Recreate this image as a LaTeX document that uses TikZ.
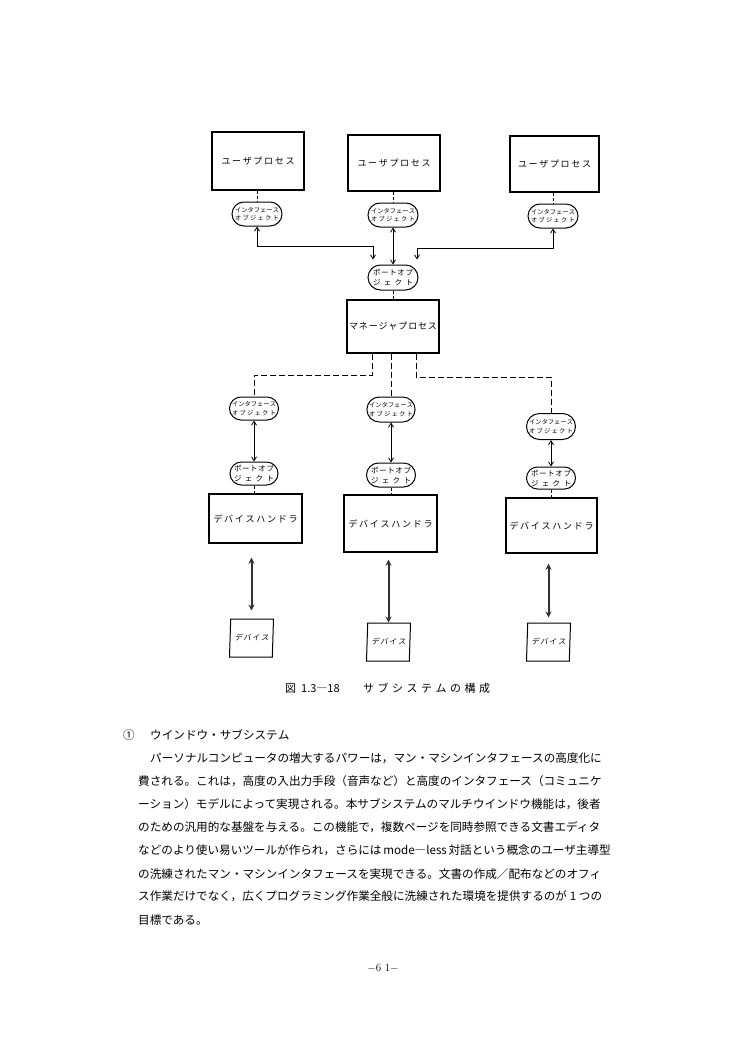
\documentclass[tikz,border=0pt]{standalone}
\usepackage{fontspec}
\newfontfamily\jp{Noto Sans CJK JP}
\newfontfamily\jpsl[FakeSlant=0.18]{Noto Sans CJK JP}
\usetikzlibrary{shapes.misc,shapes.geometric,arrows.meta}
\newcommand\fsz[2]{\fontsize{#1}{#2}\selectfont}
\newcommand\spr[2]{\makebox[#1][s]{\spaceskip=0pt plus 1fill\relax #2}}
\begin{document}
\begin{tikzpicture}[x=1pt,y=-1pt,
  proc/.style={draw, line width=1.4pt, inner sep=0pt, font=\jp\fsz{9}{11}},
  obj/.style={draw, rounded rectangle, line width=1pt, inner sep=0pt, minimum width=50pt, minimum height=24pt, align=center, font=\jp\fsz{6.2}{8.5}},
  portobj/.style={obj, font=\jp\fsz{7.5}{10}},
  dev/.style={draw, trapezium, trapezium left angle=80, trapezium right angle=100, trapezium stretches body, line width=1pt, minimum width=44pt, minimum height=38pt, inner sep=0pt, font=\jpsl\fsz{7.5}{10}},
  link/.style={line width=0.8pt, {Straight Barb[length=4pt,width=5pt]}-{Straight Barb[length=4pt,width=5pt]}},
  devlink/.style={line width=2pt, black!80, {Stealth[length=6pt,width=6pt]}-{Stealth[length=6pt,width=6pt]}},
  tie/.style={line width=0.8pt, dash pattern=on 3pt off 2pt},
  mgrlink/.style={line width=0.9pt, dash pattern=on 6pt off 3pt},
  para/.style={anchor=west, inner sep=0pt, font=\jp\fsz{11.6}{14}},
]
\useasboundingbox (0,0) rectangle (750,1054);
\fill[white] (0,0) rectangle (750,1054);

% top processes
\node[proc, minimum width=92pt, minimum height=58pt] (b1) at (258,161) {\spr{73pt}{ユ ー ザ プ ロ セ ス}};
\node[proc, minimum width=92pt, minimum height=56pt] (b2) at (394,163) {\spr{73pt}{ユ ー ザ プ ロ セ ス}};
\node[proc, minimum width=89pt, minimum height=56pt] (b3) at (554.5,164) {\spr{73pt}{ユ ー ザ プ ロ セ ス}};

\node[obj] (i1) at (257,214) {\spr{44pt}{イ ン タ フ ェ ー ス}\\\spr{44pt}{オ ブ ジ ェ ク ト}};
\node[obj] (i2) at (393,215) {\spr{44pt}{イ ン タ フ ェ ー ス}\\\spr{44pt}{オ ブ ジ ェ ク ト}};
\node[obj] (i3) at (553,216) {\spr{44pt}{イ ン タ フ ェ ー ス}\\\spr{44pt}{オ ブ ジ ェ ク ト}};

\node[portobj, minimum height=25pt] (p0) at (393,277.5) {\spr{40pt}{ポ ー ト オ ブ}\\\spr{40pt}{ジ ェ ク ト}};
\node[proc, minimum width=92pt, minimum height=53pt] (m) at (393,326.5) {\spr{88pt}{マ ネ ー ジ ャ プ ロ セ ス}};

% lower chains
\node[obj, minimum width=49pt, minimum height=23pt] (i4) at (254,408.5) {\spr{44pt}{イ ン タ フ ェ ー ス}\\\spr{44pt}{オ ブ ジ ェ ク ト}};
\node[obj, minimum width=48pt, minimum height=25pt] (i5) at (391,409.5) {\spr{44pt}{イ ン タ フ ェ ー ス}\\\spr{44pt}{オ ブ ジ ェ ク ト}};
\node[obj, minimum width=49pt, minimum height=26pt] (i6) at (551,426.5) {\spr{44pt}{イ ン タ フ ェ ー ス}\\\spr{44pt}{オ ブ ジ ェ ク ト}};

\node[portobj, minimum width=48pt, minimum height=23pt] (p4) at (254,473.5) {\spr{40pt}{ポ ー ト オ ブ}\\\spr{40pt}{ジ ェ ク ト}};
\node[portobj, minimum width=49pt, minimum height=24pt] (p5) at (391,475) {\spr{40pt}{ポ ー ト オ ブ}\\\spr{40pt}{ジ ェ ク ト}};
\node[portobj, minimum width=49pt, minimum height=22pt] (p6) at (551,478) {\spr{40pt}{ポ ー ト オ ブ}\\\spr{40pt}{ジ ェ ク ト}};

\node[proc, minimum width=93pt, minimum height=49pt] (h1) at (255.5,518.5) {\spr{84pt}{デ バ イ ス ハ ン ド ラ}};
\node[proc, minimum width=93pt, minimum height=57pt] (h2) at (390.5,523.5) {\spr{84pt}{デ バ イ ス ハ ン ド ラ}};
\node[proc, minimum width=91pt, minimum height=55pt] (h3) at (551.5,525.5) {\spr{84pt}{デ バ イ ス ハ ン ド ラ}};

\node[dev] (d1) at (251.5,638) {\spr{34pt}{デ バ イ ス}};
\node[dev] (d2) at (388.5,642) {\spr{34pt}{デ バ イ ス}};
\node[dev] (d3) at (548.5,642) {\spr{34pt}{デ バ イ ス}};

% connectors top
\draw[tie] (i1.north |- b1.south) -- (i1.north);
\draw[tie] (i2.north |- b2.south) -- (i2.north);
\draw[tie] (i3.north |- b3.south) -- (i3.north);
\coordinate (j1) at (257,246);
\coordinate (j3) at (553,248);
\draw[link, shorten >=5pt] (i1.south) -- (i1.south |- j1) -| ([xshift=-20pt]p0.north);
\draw[link] (i2.south) -- (p0.north);
\draw[link, shorten >=5pt] (i3.south) -- (i3.south |- j3) -| ([xshift=24pt]p0.north);
\draw[tie] (p0.south) -- (m.north);

% manager to lower interface objects
\coordinate (k1) at (372,375);
\coordinate (k3) at (416,377);
\draw[mgrlink] (k1 |- m.south) -- (k1) -| (i4.north);
\draw[mgrlink] (i5.north |- m.south) -- (i5.north);
\draw[mgrlink] (k3 |- m.south) -- (k3) -| (i6.north);

\draw[link] (i4.south) -- (p4.north);
\draw[link] (i5.south) -- (p5.north);
\draw[link] (i6.south) -- (p6.north);

\draw[tie] (p4.south) -- (p4.south |- h1.north);
\draw[tie] (p5.south) -- (p5.south |- h2.north);
\draw[tie] (p6.south) -- (p6.south |- h3.north);

\draw[devlink, shorten <=14pt, shorten >=8pt] (d1.north |- h1.south) -- (d1.north);
\draw[devlink, shorten <=7pt] (d2.north |- h2.south) -- (d2.north);
\draw[devlink, shorten <=10pt, shorten >=5pt] (d3.north |- h3.south) -- (d3.north);

% caption
\node[anchor=west, inner sep=0pt, font=\jp\fsz{11}{13}] (cap) at (285,688) {\makebox[78pt][l]{図\hspace{5pt}1.3―18}\spr{127pt}{サ ブ シ ス テ ム の 構 成}};

% body text
\node[para] (t0) at (123,735) {①};
\node[para] (t0b) at (150,735) {\spr{135pt}{ウ イ ン ド ウ ・ サ ブ シ ス テ ム}};
\node[para] (t1) at (150,758.1) {パーソナルコンピュータの増大するパワーは，マン・マシンインタフェースの高度化に};
\node[para] (t2) at (138,781.2) {費される。これは，高度の入出力手段（音声など）と高度のインタフェース（コミュニケ};
\node[para] (t3) at (138,804.3) {ーション）モデルによって実現される。本サブシステムのマルチウインドウ機能は，後者};
\node[para] (t4) at (138,827.4) {のための汎用的な基盤を与える。この機能で，複数ページを同時参照できる文書エディタ};
\node[para] (t5) at (138,850.5) {\makebox[464pt][s]{などのより使い易いツールが作られ，さらには mode―less 対話という概念のユーザ主導型}};
\node[para] (t6) at (138,873.6) {の洗練されたマン・マシンインタフェースを実現できる。文書の作成／配布などのオフィ};
\node[para] (t7) at (138,896.7) {\makebox[464pt][s]{ス作業だけでなく，広くプログラミング作業全般に洗練された環境を提供するのが 1 つの}};
\node[para] (t8) at (138,919.8) {目標である。};

\node[inner sep=0pt, font=\fsz{11}{13}] (pg) at (383,968) {$-$6\,\,1$-$};
\end{tikzpicture}
\end{document}
